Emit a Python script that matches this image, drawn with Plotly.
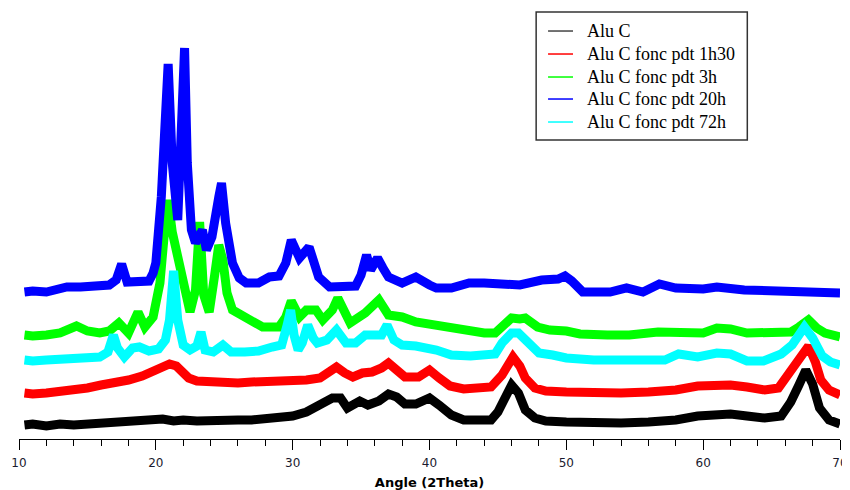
import plotly.graph_objects as go

# ---------------- data ----------------
ang_alu_c = [10.4, 11, 12, 13, 14, 15, 16, 17, 18, 19, 19.8, 20.5, 21.3, 22, 23, 24, 25, 26, 27, 28, 29, 30, 31, 32,
             32.9, 33.5, 34, 34.9, 35.5, 36.3, 37, 37.6, 38.2, 39, 40, 40.7, 41.6, 42.5, 43.5, 44.5, 45, 45.5, 46,
             46.5, 47, 47.7, 48.5, 50, 52, 54, 56, 58, 59.6, 61, 62, 63.2, 64.5, 65.7, 66.4, 67, 67.5, 68, 68.5,
             69.2, 70]
int_alu_c = [14, 15, 13, 15, 14, 15, 16, 16, 17, 18, 21, 20, 18, 19, 18, 19, 18, 19, 19, 20, 21, 23, 27, 34,
             41, 41, 31, 38, 34, 38, 45, 42, 35, 35, 41, 34, 24, 19, 18, 19, 27, 39, 54,
             46, 29, 21, 18, 17, 16, 16, 17, 19, 23, 25, 25, 23, 21, 23, 37, 54, 69, 55, 31,
             19, 15]

ang_1h30 = [10.4, 11, 12, 13, 14, 15, 16, 17, 18, 19, 19.8, 20.5, 21, 21.5, 22, 22.4, 23, 24, 25, 26, 27, 28, 29,
            30, 31, 32, 32.7, 33.2, 33.8, 34.4, 35.1, 35.8, 36.5, 37, 37.6, 38.2, 39.2, 40, 40.7, 41.5, 42.5,
            43.5, 44.5, 45.3, 45.8, 46.1, 46.6, 47, 47.7, 48.5, 50, 52, 54, 56, 58, 59.6, 61, 62, 63.2, 64.5,
            65.5, 66.4, 67, 67.7, 68.2, 68.6, 69.2, 70]
int_1h30 = [46, 45, 46, 47, 48, 51, 54, 56, 59, 63, 67, 72, 75, 73, 66, 61, 58, 57, 57, 56, 57, 57, 58,
            58, 59, 61, 66, 72, 66, 62, 66, 67, 71, 76, 69, 62, 62, 69, 61, 53, 50,
            50, 52, 64, 77, 82, 73, 61, 51, 48, 47, 46, 46, 47, 49, 53, 54, 54, 52, 49,
            51, 67, 81, 93, 77, 59, 49, 44]

ang_3h = [10.4, 11, 12, 13, 14.2, 15, 15.9, 16.6, 17.3, 18, 18.7, 19.2, 19.8, 20.3, 20.6, 20.9, 21.2, 21.5, 21.8,
          22.1, 22.5, 22.9, 23.2, 23.5, 23.9, 24.3, 24.6, 24.9, 25.2, 25.6, 26.6, 27.8, 29, 29.5, 29.9, 30.5,
          31, 31.7, 32.2, 32.9, 33.3, 34.2, 35.3, 36, 36.3, 37, 38, 39, 40, 41, 42.5, 44, 44.8, 45.6, 46,
          46.6, 47, 47.9, 48.8, 50, 51, 53, 54.6, 56.7, 58.9, 60, 61, 62, 63.2, 65, 66.4, 67, 67.7, 68.3,
          68.9, 70]
int_3h = [104, 103, 104, 106, 113, 108, 106, 108, 116, 106, 127, 112, 122, 156, 202, 239, 207, 189, 177,
          154, 127, 149, 217, 144, 127, 164, 194, 179, 146, 129, 122, 112, 112, 122, 138, 122,
          129, 129, 119, 129, 141, 116, 126, 136, 139, 124, 122, 117, 115, 111, 109, 106, 106, 116, 121,
          120, 121, 112, 109, 108, 105, 104, 104, 107, 107, 106, 111, 110, 106, 106, 107, 112, 119, 111,
          106, 102]

ang_20h = [10.4, 11, 12, 13, 13.5, 14.5, 15.9, 16.6, 17.1, 17.5, 17.9, 18.5, 19.5, 19.8, 20, 20.4, 20.6, 20.9,
           21.05, 21.2, 21.6, 21.9, 22.1, 22.3, 22.6, 22.9, 23.4, 23.7, 24.1, 24.6, 24.8, 25.1, 25.6, 26.1,
           26.6, 27.5, 28.3, 29, 29.5, 29.9, 30.5, 31.2, 31.6, 31.9, 32.7, 33.5, 34.6, 35, 35.4, 35.7, 36.2,
           36.6, 37, 38, 39, 40, 40.5, 41.6, 42.9, 44, 45.3, 46.6, 48.2, 49.4, 49.9, 50.4, 51.2, 53.2, 54.4,
           55.6, 56.8, 58, 60, 61, 63, 65, 67, 70]
int_20h = [147, 148, 147, 150, 152, 152, 152, 154, 159, 175, 157, 157, 158, 166, 176, 242, 309, 375,
           326, 276, 219, 309, 391, 276, 209, 196, 209, 189, 202, 242, 256, 216, 176, 161,
           156, 156, 162, 163, 176, 199, 181, 192, 177, 162, 152, 152, 153, 164, 184, 169, 181,
           171, 162, 156, 162, 154, 151, 151, 156, 156, 156, 154, 159, 160, 163, 158, 147, 147, 151,
           147, 155, 151, 150, 152, 149, 148, 147, 146]

ang_72h = [10.4, 11, 12, 13, 14, 15, 15.9, 16.5, 16.9, 17.2, 17.7, 18.3, 18.8, 19.5, 20.2, 20.7, 21, 21.3, 21.6,
           22, 22.5, 23, 23.3, 23.6, 24.2, 24.9, 25.5, 26.5, 27.5, 28.5, 29.2, 29.6, 29.85, 30.1, 30.4, 30.7,
           31.1, 31.5, 31.8, 32.5, 33.2, 33.9, 34.6, 35.3, 36, 36.5, 36.9, 37.4, 38, 39, 40.5, 41.6, 43, 44.8,
           45.3, 46, 46.5, 47.2, 48, 49, 50, 52, 54, 56, 57.2, 58.2, 59.6, 61, 62, 63.2, 64.4, 65.7, 66.5,
           67.4, 68, 68.7, 69.3, 70]
int_72h = [79, 78, 79, 80, 81, 80, 82, 87, 104, 91, 82, 91, 92, 88, 90, 99, 119, 168, 119,
           94, 89, 93, 107, 89, 87, 94, 87, 87, 88, 92, 94, 114, 129, 104, 89, 96,
           114, 101, 96, 99, 109, 96, 96, 104, 105, 104, 114, 99, 94, 93, 89, 84, 83, 85,
           96, 106, 106, 96, 86, 84, 81, 79, 79, 79, 79, 85, 82, 86, 85, 78, 78, 85, 94,
           112, 101, 83, 77, 74]

series_names = ["Alu C", "Alu C fonc pdt 1h30", "Alu C fonc pdt 3h", "Alu C fonc pdt 20h", "Alu C fonc pdt 72h"]
series_angles = [ang_alu_c, ang_1h30, ang_3h, ang_20h, ang_72h]
series_values = [int_alu_c, int_1h30, int_3h, int_20h, int_72h]
series_colors = ["#000000", "#FF0000", "#00FF00", "#0000FF", "#00FFFF"]

x_ticks = [10, 20, 30, 40, 50, 60, 70]

# ---------------- figure ----------------
fig = go.Figure()

for name, xs, ys, col in zip(series_names, series_angles, series_values, series_colors):
    fig.add_trace(go.Scatter(x=xs, y=ys, mode="lines", name=name, showlegend=False, hoverinfo="skip",
                             line=dict(color=col, width=9)))

# legend box drawn by hand (paper coordinates) to match the compact original
box_x0, box_x1, box_y0, box_y1 = 0.6299, 0.8871, 0.6970, 0.9953
row_y = [0.9510, 0.8974, 0.8438, 0.7925, 0.7389]
line_x0, line_x1, text_x = 0.6444, 0.6748, 0.6893

shapes = [dict(type="rect", xref="paper", yref="paper", x0=box_x0, x1=box_x1, y0=box_y0, y1=box_y1,
               line=dict(color="#333333", width=1.5), fillcolor="white", layer="above")]
annotations = []
for name, col, ry in zip(series_names, series_colors, row_y):
    shapes.append(dict(type="line", xref="paper", yref="paper", x0=line_x0, x1=line_x1, y0=ry, y1=ry,
                       line=dict(color=col if col != "#000000" else "#444444", width=1.5), layer="above"))
    annotations.append(dict(xref="paper", yref="paper", x=text_x, y=ry, xanchor="left", yanchor="middle",
                            text=name, showarrow=False,
                            font=dict(family="Liberation Serif", size=18, color="black")))

# the page body has an 8px margin, so the figure is drawn 8px right/down
fig.update_layout(
    width=842, height=482,
    margin=dict(l=11, r=7, t=2, b=51),
    paper_bgcolor="white", plot_bgcolor="white",
    showlegend=False,
    shapes=shapes,
    annotations=annotations,
    xaxis=dict(range=[10, 70], showgrid=False, zeroline=False,
               showline=True, linecolor="black", linewidth=1,
               tickmode="array", tickvals=x_ticks, ticktext=[str(t) for t in x_ticks],
               ticks="outside", ticklen=10, tickwidth=1, tickcolor="black",
               ticklabelstandoff=3, ticklabeloverflow="allow",
               tickfont=dict(family="DejaVu Sans", size=12, color="#1a1a2e"),
               minor=dict(dtick=2, tick0=10, ticks="outside", ticklen=6, tickwidth=1, tickcolor="black"),
               title=dict(text="Angle (2Theta)", standoff=8,
                          font=dict(family="DejaVu Sans", size=13, color="black", weight="bold"))),
    yaxis=dict(range=[0, 429], visible=False, showgrid=False, zeroline=False),
)

fig.write_html("out.html", config={"displayModeBar": False})
